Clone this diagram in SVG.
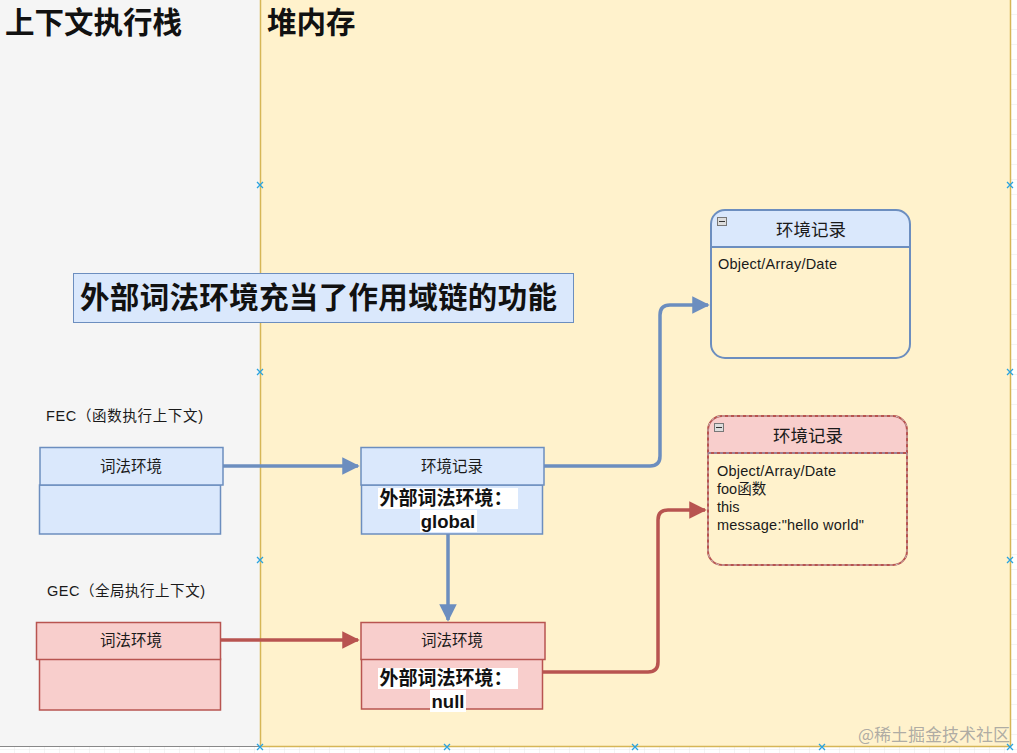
<svg xmlns="http://www.w3.org/2000/svg" width="1017" height="753" viewBox="0 0 1017 753">
<defs>
<style>
.t{font-family:"Liberation Sans","Noto Sans CJK SC",sans-serif;fill:#1a1a1a}
.b{font-weight:bold;fill:#111}
.blue{fill:#dae8fc;stroke:#6c8ebf;stroke-width:1.5}
.red{fill:#f8cecc;stroke:#b85450;stroke-width:1.5}
.cb{fill:none;stroke:#6c8ebf;stroke-width:3.5}
.cr{fill:none;stroke:#b85450;stroke-width:3.5}
.h{stroke:#29a3e0;stroke-width:1.3}
</style>
<marker id="ab" viewBox="0 0 10 10" refX="9" refY="5" markerWidth="5" markerHeight="5" orient="auto" markerUnits="strokeWidth"><path d="M0,0 L10,5 L0,10 z" fill="#6c8ebf"/></marker>
<marker id="ar" viewBox="0 0 10 10" refX="9" refY="5" markerWidth="5" markerHeight="5" orient="auto" markerUnits="strokeWidth"><path d="M0,0 L10,5 L0,10 z" fill="#b85450"/></marker>
<pattern id="grid" width="15" height="15" patternUnits="userSpaceOnUse"><path d="M15,0 V15 M0,15 H15" stroke="#e8e8e8" stroke-width="1" fill="none"/></pattern>
</defs>
<rect width="1017" height="753" fill="#fff"/>
<rect width="1017" height="753" fill="url(#grid)"/>
<g id="stack-panel">
<rect x="0" y="0" width="260" height="746" fill="#f5f5f5"/>
<line x1="0" y1="746.5" x2="260" y2="746.5" stroke="#888" stroke-width="1"/>
<text class="t b" x="5" y="33" font-size="29.5">上下文执行栈</text>
</g>
<g id="heap-panel">
<rect x="260.5" y="-2" width="750" height="748.5" fill="#fff2cc" stroke="#d6b656" stroke-width="1.5"/>
<text class="t b" x="267" y="33" font-size="29.5">堆内存</text>
</g>
<g id="banner">
<rect x="73.5" y="273.5" width="500" height="49" fill="#dae8fc" stroke="#6c8ebf"/>
<text class="t b" x="80" y="308" font-size="29.5" textLength="477">外部词法环境充当了作用域链的功能</text>
</g>
<g id="fec-label"><text class="t" x="46" y="421" font-size="14.5" textLength="157">FEC（函数执行上下文)</text></g>
<g id="fec">
<rect class="blue" x="39.5" y="485" width="181" height="49"/>
<rect class="blue" x="40" y="447.5" width="183" height="37.5"/>
<text class="t" x="131" y="471.5" font-size="15.5" text-anchor="middle">词法环境</text>
</g>
<g id="gec-label"><text class="t" x="47" y="596" font-size="14.5" textLength="158">GEC（全局执行上下文)</text></g>
<g id="gec">
<rect class="red" x="39.5" y="659" width="181" height="51"/>
<rect class="red" x="36.5" y="622.5" width="184" height="37"/>
<text class="t" x="131" y="646" font-size="15.5" text-anchor="middle">词法环境</text>
</g>
<g id="fec-record">
<rect class="blue" x="361.5" y="485" width="181" height="49"/>
<rect class="blue" x="361" y="447.5" width="183" height="37.5"/>
<text class="t" x="452" y="471.5" font-size="15.5" text-anchor="middle">环境记录</text>
<rect x="378" y="488" width="140" height="21" fill="#fff"/>
<rect x="420" y="510" width="57" height="22" fill="#fff"/>
<text class="t b" x="446" y="505" font-size="19" text-anchor="middle">外部词法环境：</text>
<text class="t b" x="448" y="528" font-size="18.5" text-anchor="middle">global</text>
</g>
<g id="gec-record">
<rect class="red" x="361.5" y="659" width="181" height="50"/>
<rect class="red" x="361" y="622.5" width="184" height="37"/>
<text class="t" x="452" y="646" font-size="15.5" text-anchor="middle">词法环境</text>
<rect x="378" y="668" width="140" height="21" fill="#fff"/>
<rect x="430" y="690" width="36" height="22" fill="#fff"/>
<text class="t b" x="446" y="685" font-size="19" text-anchor="middle">外部词法环境：</text>
<text class="t b" x="448" y="708" font-size="18.5" text-anchor="middle">null</text>
</g>
<g id="heap-record-1">
<path d="M711,247 V224 Q711,210 725,210 H896 Q910,210 910,224 V247 Z" fill="#dae8fc"/>
<rect x="711" y="210" width="199" height="148" rx="14" fill="none" stroke="#6c8ebf" stroke-width="2"/>
<line x1="711" y1="247" x2="910" y2="247" stroke="#6c8ebf" stroke-width="2"/>
<rect x="717.5" y="217.5" width="9" height="8" fill="#ddd" stroke="#777"/>
<line x1="719" y1="221.5" x2="725" y2="221.5" stroke="#333"/>
<text class="t" x="811" y="236" font-size="17.5" text-anchor="middle">环境记录</text>
<text class="t" x="718" y="269" font-size="14.5" textLength="119">Object/Array/Date</text>
</g>
<g id="heap-record-2">
<path d="M708,453 V430 Q708,416 722,416 H893 Q907,416 907,430 V453 Z" fill="#f8cecc"/>
<rect x="708" y="416" width="199" height="149" rx="14" fill="none" stroke="#b85450" stroke-width="2"/>
<rect x="708" y="416" width="199" height="149" rx="14" fill="none" stroke="#c8c8c8" stroke-width="1" stroke-dasharray="3 3"/>
<line x1="708" y1="453" x2="907" y2="453" stroke="#b85450" stroke-width="2"/>
<line x1="708" y1="453" x2="907" y2="453" stroke="#7fb0e0" stroke-width="1" stroke-dasharray="3 3"/>
<rect x="714.5" y="423.5" width="9" height="8" fill="#ddd" stroke="#777"/>
<line x1="716" y1="427.5" x2="722" y2="427.5" stroke="#333"/>
<text class="t" x="808" y="442" font-size="17.5" text-anchor="middle">环境记录</text>
<text class="t" x="717" y="476" font-size="14.5" textLength="119">Object/Array/Date</text>
<text class="t" x="717" y="494" font-size="14.5">foo函数</text>
<text class="t" x="717" y="512" font-size="14.5">this</text>
<text class="t" x="717" y="530" font-size="14.5" textLength="147">message:"hello world"</text>
</g>
<g id="connectors">
<path class="cb" d="M223,466 H358" marker-end="url(#ab)"/>
<path class="cb" d="M544,466 H650 Q660,466 660,456 V315 Q660,305 670,305 H708" marker-end="url(#ab)"/>
<path class="cb" d="M448,534 V620" marker-end="url(#ab)"/>
<path class="cr" d="M220,640 H358" marker-end="url(#ar)"/>
<path class="cr" d="M542,672 H648 Q658,672 658,662 V520 Q658,510 668,510 H705" marker-end="url(#ar)"/>
</g>
<g id="handles">
<path class="h" d="M257,182 l6,6 M263,182 l-6,6 M257,369 l6,6 M263,369 l-6,6 M257,557 l6,6 M263,557 l-6,6 M257,744 l6,6 M263,744 l-6,6 M1007,182 l6,6 M1013,182 l-6,6 M1007,369 l6,6 M1013,369 l-6,6 M1007,557 l6,6 M1013,557 l-6,6 M1007,744 l6,6 M1013,744 l-6,6 M444,744 l6,6 M450,744 l-6,6 M632,744 l6,6 M638,744 l-6,6 M819,744 l6,6 M825,744 l-6,6"/>
</g>
<g id="watermark"><text x="1010" y="741" font-size="17" text-anchor="end" font-family="'Noto Sans CJK SC',sans-serif" fill="#999" fill-opacity="0.8">@稀土掘金技术社区</text></g>
</svg>
